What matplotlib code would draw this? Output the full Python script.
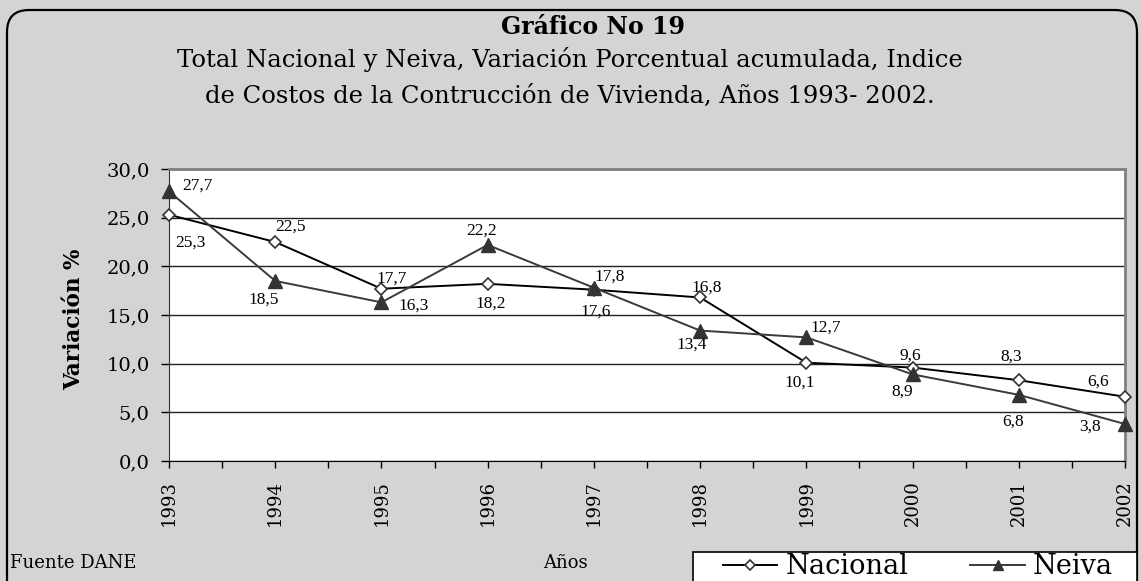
import matplotlib
matplotlib.use("Agg")
import matplotlib.pyplot as plt
from matplotlib.patches import FancyBboxPatch, Rectangle
from matplotlib.ticker import FuncFormatter, MultipleLocator

years = [1993, 1994, 1995, 1996, 1997, 1998, 1999, 2000, 2001, 2002]
nacional = [25.3, 22.5, 17.7, 18.2, 17.6, 16.8, 10.1, 9.6, 8.3, 6.6]
neiva = [27.7, 18.5, 16.3, 22.2, 17.8, 13.4, 12.7, 8.9, 6.8, 3.8]

# label offsets in pixels (dx, dy) relative to each point
nacional_off = [(21, -28), (15, 15), (10, 10), (3, -20), (2, -22),
                (7, 10), (-7, -20), (-2, 12), (-8, 24), (-27, 15)]
neiva_off = [(28, 6), (-12, -19), (32, -3), (-6, 14), (16, 11),
             (-8, -14), (19, 10), (-10, -17), (-6, -27), (-35, -3)]

SERIF = "DejaVu Serif"
LABEL = "Liberation Serif"
BG = "#d4d4d4"


def fmt(v):
    return f"{v:.1f}".replace(".", ",")


def main():
    W, H = 1141, 581
    fig = plt.figure(figsize=(W / 100, H / 100), dpi=100, facecolor=BG)

    # rounded outer frame
    fig.add_artist(FancyBboxPatch((7, -25), 1130, 596, boxstyle="round,pad=0,rounding_size=22",
                                  transform=None, facecolor="none", edgecolor="black",
                                  linewidth=1.6))

    left, right, top, bottom = 169, 1125, 169, 461
    ax = fig.add_axes([left / W, (H - bottom) / H, (right - left) / W, (bottom - top) / H])
    ax.set_facecolor("white")

    ax.plot(years, nacional, color="black", lw=1.4, marker="D", ms=6.5, mfc="white",
            mec="#333333", mew=1.2, clip_on=False, zorder=4, label="Nacional")
    ax.plot(years, neiva, color="#3a3a3a", lw=1.4, marker="^", ms=9.5, mfc="#333333",
            mec="#333333", clip_on=False, zorder=4, label="Neiva")

    for x, v, (dx, dy) in zip(years, nacional, nacional_off):
        ax.annotate(fmt(v), (x, v), xytext=(dx, dy), textcoords="offset pixels",
                    ha="center", va="center", fontsize=12.5, family=LABEL, zorder=5,
                    annotation_clip=False)
    for x, v, (dx, dy) in zip(years, neiva, neiva_off):
        ax.annotate(fmt(v), (x, v), xytext=(dx, dy), textcoords="offset pixels",
                    ha="center", va="center", fontsize=12.5, family=LABEL, zorder=5,
                    annotation_clip=False)

    ax.set_xlim(1993, 2002)
    ax.set_ylim(0, 30)
    ax.yaxis.set_major_locator(MultipleLocator(5))
    ax.yaxis.set_major_formatter(FuncFormatter(lambda v, p: fmt(v)))
    ax.set_xticks(years)
    ax.set_xticklabels([str(y) for y in years], rotation=90, fontsize=13, family=SERIF)
    ax.xaxis.set_minor_locator(MultipleLocator(0.5))
    for lab in ax.get_yticklabels():
        lab.set_family(SERIF)
        lab.set_fontsize(14)

    ax.tick_params(axis="y", direction="out", length=6, width=1, pad=8)
    ax.tick_params(axis="x", which="both", direction="out", length=5, width=1, pad=9)
    ax.grid(axis="y", color="#222222", lw=1.0)
    ax.set_axisbelow(True)

    ax.spines["top"].set_color("#808080")
    ax.spines["top"].set_linewidth(2)
    ax.spines["right"].set_color("#808080")
    ax.spines["right"].set_linewidth(2)
    ax.spines["left"].set_color("#333333")
    ax.spines["bottom"].set_color("black")

    fig.text(593 / W, 1 - 27 / H, "Gráfico No 19", ha="center", va="center",
             fontsize=17, fontweight="bold", family=SERIF)
    fig.text(570 / W, 1 - 59 / H, "Total Nacional y Neiva, Variación Porcentual acumulada, Indice",
             ha="center", va="center", fontsize=17.5, family=SERIF)
    fig.text(570 / W, 1 - 96 / H, "de Costos de la Contrucción de Vivienda, Años 1993- 2002.",
             ha="center", va="center", fontsize=17.5, family=SERIF)

    fig.text(74 / W, 1 - 319 / H, "Variación %", rotation=90, ha="center", va="center",
             fontsize=15.5, fontweight="bold", family=SERIF)
    fig.text(10 / W, 1 - 563 / H, "Fuente DANE", ha="left", va="center",
             fontsize=13, family=SERIF)
    fig.text(565 / W, 1 - 563 / H, "Años", ha="center", va="center",
             fontsize=13, family=SERIF)

    # legend box, cut off at the bottom edge
    fig.add_artist(Rectangle((693, -10), 444, H - 552 + 10, transform=None,
                             facecolor="white", edgecolor="black", linewidth=1.2))
    handles, labels = ax.get_legend_handles_labels()
    fig.legend(handles, labels, loc="center left",
               bbox_to_anchor=(723 / W, 1 - 567 / H), ncol=2, frameon=False,
               prop={"family": SERIF, "size": 19.5}, borderpad=0, borderaxespad=0,
               handlelength=2.0, handletextpad=0.3, columnspacing=2.3,
               markerscale=0.75)

    fig.savefig("out.png", dpi=100, facecolor=BG)


main()
